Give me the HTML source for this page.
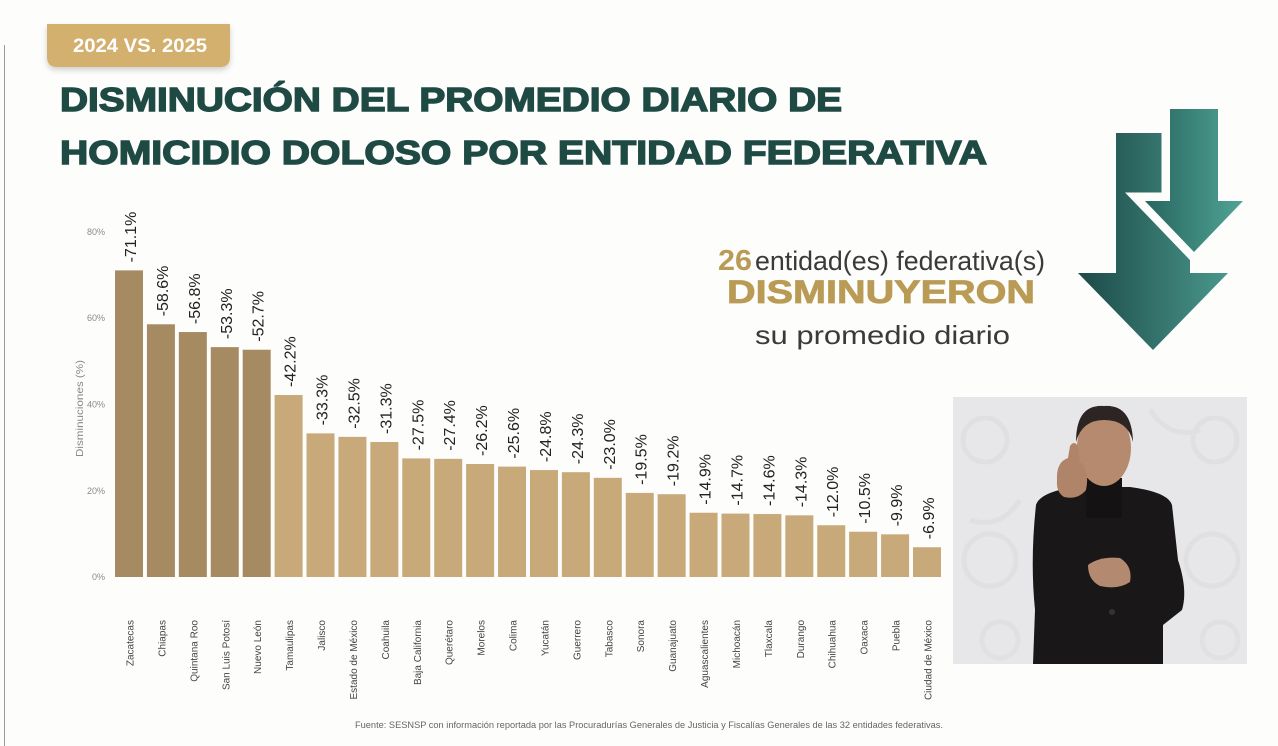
<!DOCTYPE html>
<html><head><meta charset="utf-8"><style>
html,body{margin:0;padding:0;background:#fdfdfc;}
svg{display:block;}
text{font-family:"Liberation Sans",sans-serif;}
</style></head><body>
<svg width="1278" height="746" viewBox="0 0 1278 746" xmlns="http://www.w3.org/2000/svg">
<defs>
<linearGradient id="gA" gradientUnits="userSpaceOnUse" x1="1078" y1="0" x2="1245" y2="0">
<stop offset="0" stop-color="#1c4a48"/><stop offset="1" stop-color="#4fa094"/></linearGradient>
<linearGradient id="gB" gradientUnits="userSpaceOnUse" x1="1145" y1="0" x2="1245" y2="0">
<stop offset="0" stop-color="#276660"/><stop offset="1" stop-color="#52a597"/></linearGradient>
<filter id="sh" x="-10%" y="-30%" width="120%" height="170%"><feDropShadow dx="0" dy="3" stdDeviation="3" flood-color="#000" flood-opacity="0.18"/></filter>
</defs>
<rect width="1278" height="746" fill="#fdfdfc"/>
<line x1="4.5" y1="45" x2="4.5" y2="746" stroke="#9a9a9a" stroke-width="1"/>

<!-- badge -->
<path d="M47 24 H230 V57 Q230 67 220 67 H57 Q47 67 47 57 Z" fill="#d3b06e" filter="url(#sh)"/>
<text x="73" y="52" font-size="19" font-weight="bold" fill="#fff" textLength="134" lengthAdjust="spacingAndGlyphs">2024 VS. 2025</text>

<!-- title -->
<text x="60" y="111" font-size="33" font-weight="bold" fill="#1f4a44" stroke="#1f4a44" stroke-width="1.4" textLength="782" lengthAdjust="spacingAndGlyphs">DISMINUCIÓN DEL PROMEDIO DIARIO DE</text>
<text x="60" y="164" font-size="33" font-weight="bold" fill="#1f4a44" stroke="#1f4a44" stroke-width="1.4" textLength="927" lengthAdjust="spacingAndGlyphs">HOMICIDIO DOLOSO POR ENTIDAD FEDERATIVA</text>

<!-- right text -->
<text x="718" y="270" font-size="29" font-weight="bold" fill="#b99b55" textLength="34" lengthAdjust="spacingAndGlyphs">26</text>
<text x="755" y="270" font-size="27" fill="#3a3a3a" textLength="290" lengthAdjust="spacingAndGlyphs">entidad(es) federativa(s)</text>
<text x="727" y="303" font-size="32" font-weight="bold" fill="#b99b55" stroke="#b99b55" stroke-width="0.8" textLength="308" lengthAdjust="spacingAndGlyphs">DISMINUYERON</text>
<text x="755" y="344" font-size="26" fill="#3a3a3a" textLength="255" lengthAdjust="spacingAndGlyphs">su promedio diario</text>

<!-- arrows -->
<polygon points="1116,133 1190,133 1190,273 1228,273 1153,350 1078,273 1116,273" fill="url(#gA)"/>
<polygon points="1170,109 1218,109 1218,201 1243,201 1194,252 1145,201 1170,201" fill="url(#gB)" stroke="#fdfdfc" stroke-width="17" stroke-linejoin="miter" paint-order="stroke"/>

<!-- y axis -->
<g font-size="9" fill="#8a8a8a" text-anchor="end">
<text x="105" y="235">80%</text>
<text x="105" y="321">60%</text>
<text x="105" y="407.5">40%</text>
<text x="105" y="494">20%</text>
<text x="105" y="580">0%</text>
</g>
<text transform="translate(83,408.5) rotate(-90)" font-size="10.5" fill="#888" text-anchor="middle" textLength="97" lengthAdjust="spacingAndGlyphs">Disminuciones (%)</text>

<!-- bars -->
<g fill="#a58a62">
<rect x="115.00" y="270.38" width="28" height="306.62"/>
<rect x="146.92" y="324.29" width="28" height="252.71"/>
<rect x="178.84" y="332.05" width="28" height="244.95"/>
<rect x="210.76" y="347.14" width="28" height="229.86"/>
<rect x="242.68" y="349.73" width="28" height="227.27"/>
</g>
<g fill="#c8a97a">
<rect x="274.60" y="395.01" width="28" height="181.99"/>
<rect x="306.52" y="433.39" width="28" height="143.61"/>
<rect x="338.44" y="436.84" width="28" height="140.16"/>
<rect x="370.36" y="442.02" width="28" height="134.98"/>
<rect x="402.28" y="458.41" width="28" height="118.59"/>
<rect x="434.20" y="458.84" width="28" height="118.16"/>
<rect x="466.12" y="464.01" width="28" height="112.99"/>
<rect x="498.04" y="466.60" width="28" height="110.40"/>
<rect x="529.96" y="470.05" width="28" height="106.95"/>
<rect x="561.88" y="472.21" width="28" height="104.79"/>
<rect x="593.80" y="477.81" width="28" height="99.19"/>
<rect x="625.72" y="492.91" width="28" height="84.09"/>
<rect x="657.64" y="494.20" width="28" height="82.80"/>
<rect x="689.56" y="512.74" width="28" height="64.26"/>
<rect x="721.48" y="513.61" width="28" height="63.39"/>
<rect x="753.40" y="514.04" width="28" height="62.96"/>
<rect x="785.32" y="515.33" width="28" height="61.67"/>
<rect x="817.24" y="525.25" width="28" height="51.75"/>
<rect x="849.16" y="531.72" width="28" height="45.28"/>
<rect x="881.08" y="534.31" width="28" height="42.69"/>
<rect x="913.00" y="547.24" width="28" height="29.76"/>
</g>

<!-- value labels -->
<g font-size="16" fill="#222">
<text transform="translate(136.0,262.4) rotate(-90)">-71.1%</text>
<text transform="translate(167.9,316.3) rotate(-90)">-58.6%</text>
<text transform="translate(199.8,324.1) rotate(-90)">-56.8%</text>
<text transform="translate(231.8,339.1) rotate(-90)">-53.3%</text>
<text transform="translate(263.7,341.7) rotate(-90)">-52.7%</text>
<text transform="translate(295.6,387.0) rotate(-90)">-42.2%</text>
<text transform="translate(327.5,425.4) rotate(-90)">-33.3%</text>
<text transform="translate(359.4,428.8) rotate(-90)">-32.5%</text>
<text transform="translate(391.4,434.0) rotate(-90)">-31.3%</text>
<text transform="translate(423.3,450.4) rotate(-90)">-27.5%</text>
<text transform="translate(455.2,450.8) rotate(-90)">-27.4%</text>
<text transform="translate(487.1,456.0) rotate(-90)">-26.2%</text>
<text transform="translate(519.0,458.6) rotate(-90)">-25.6%</text>
<text transform="translate(551.0,462.1) rotate(-90)">-24.8%</text>
<text transform="translate(582.9,464.2) rotate(-90)">-24.3%</text>
<text transform="translate(614.8,469.8) rotate(-90)">-23.0%</text>
<text transform="translate(646.7,484.9) rotate(-90)">-19.5%</text>
<text transform="translate(678.6,486.2) rotate(-90)">-19.2%</text>
<text transform="translate(710.6,504.7) rotate(-90)">-14.9%</text>
<text transform="translate(742.5,505.6) rotate(-90)">-14.7%</text>
<text transform="translate(774.4,506.0) rotate(-90)">-14.6%</text>
<text transform="translate(806.3,507.3) rotate(-90)">-14.3%</text>
<text transform="translate(838.2,517.3) rotate(-90)">-12.0%</text>
<text transform="translate(870.2,523.7) rotate(-90)">-10.5%</text>
<text transform="translate(902.1,526.3) rotate(-90)">-9.9%</text>
<text transform="translate(934.0,539.2) rotate(-90)">-6.9%</text>
</g>

<!-- category labels -->
<g font-size="10" fill="#444" text-anchor="end">
<text transform="translate(133.5,620) rotate(-90)">Zacatecas</text>
<text transform="translate(165.4,620) rotate(-90)">Chiapas</text>
<text transform="translate(197.3,620) rotate(-90)">Quintana Roo</text>
<text transform="translate(229.3,620) rotate(-90)">San Luis Potosí</text>
<text transform="translate(261.2,620) rotate(-90)">Nuevo León</text>
<text transform="translate(293.1,620) rotate(-90)">Tamaulipas</text>
<text transform="translate(325.0,620) rotate(-90)">Jalisco</text>
<text transform="translate(356.9,620) rotate(-90)">Estado de México</text>
<text transform="translate(388.9,620) rotate(-90)">Coahuila</text>
<text transform="translate(420.8,620) rotate(-90)">Baja California</text>
<text transform="translate(452.7,620) rotate(-90)">Querétaro</text>
<text transform="translate(484.6,620) rotate(-90)">Morelos</text>
<text transform="translate(516.5,620) rotate(-90)">Colima</text>
<text transform="translate(548.5,620) rotate(-90)">Yucatán</text>
<text transform="translate(580.4,620) rotate(-90)">Guerrero</text>
<text transform="translate(612.3,620) rotate(-90)">Tabasco</text>
<text transform="translate(644.2,620) rotate(-90)">Sonora</text>
<text transform="translate(676.1,620) rotate(-90)">Guanajuato</text>
<text transform="translate(708.1,620) rotate(-90)">Aguascalientes</text>
<text transform="translate(740.0,620) rotate(-90)">Michoacán</text>
<text transform="translate(771.9,620) rotate(-90)">Tlaxcala</text>
<text transform="translate(803.8,620) rotate(-90)">Durango</text>
<text transform="translate(835.7,620) rotate(-90)">Chihuahua</text>
<text transform="translate(867.7,620) rotate(-90)">Oaxaca</text>
<text transform="translate(899.6,620) rotate(-90)">Puebla</text>
<text transform="translate(931.5,620) rotate(-90)">Ciudad de México</text>
</g>

<!-- footer -->
<text x="355" y="728" font-size="9" fill="#666" textLength="588" lengthAdjust="spacingAndGlyphs">Fuente: SESNSP con información reportada por las Procuradurías Generales de Justicia y Fiscalías Generales de las 32 entidades federativas.</text>

<!-- interpreter photo -->
<rect x="953" y="397" width="294" height="267" fill="#e7e7e9"/>
<g fill="none" stroke="#dddde0" stroke-width="5" opacity="0.6">
<circle cx="985" cy="440" r="22"/><circle cx="1215" cy="440" r="22"/>
<circle cx="990" cy="560" r="26"/><circle cx="1212" cy="560" r="26"/>
<circle cx="1000" cy="640" r="18"/><circle cx="1220" cy="640" r="18"/>
<path d="M1150 410 q20 30 50 20"/><path d="M1020 500 q-20 30 -50 20"/>
</g>
<!-- body -->
<path d="M1036 505 Q1040 492 1075 487 L1130 487 Q1168 492 1172 505 L1178 560 Q1188 590 1182 610 L1163 625 L1163 664 L1033 664 L1035 610 Q1030 560 1036 505 Z" fill="#1a1718"/>
<path d="M1086 478 h36 v40 h-36 Z" fill="#141213"/>
<!-- head -->
<ellipse cx="1104" cy="448" rx="27" ry="38" fill="#b58a6f"/>
<path d="M1076 442 Q1076 404 1104 406 Q1132 404 1133 442 Q1128 420 1104 420 Q1082 420 1076 442 Z" fill="#2d2424"/>
<!-- raised hand -->
<path d="M1057 480 Q1056 462 1068 458 L1070 446 Q1074 440 1078 446 L1080 462 Q1090 470 1086 490 Q1078 500 1064 497 Q1056 492 1057 480 Z" fill="#b08468"/>
<!-- lower hand -->
<path d="M1088 565 Q1100 556 1120 558 Q1133 566 1130 582 Q1118 590 1100 586 Q1088 580 1088 565 Z" fill="#b38a70"/>
<circle cx="1112" cy="612" r="3" fill="#333"/>
</svg>
</body></html>
